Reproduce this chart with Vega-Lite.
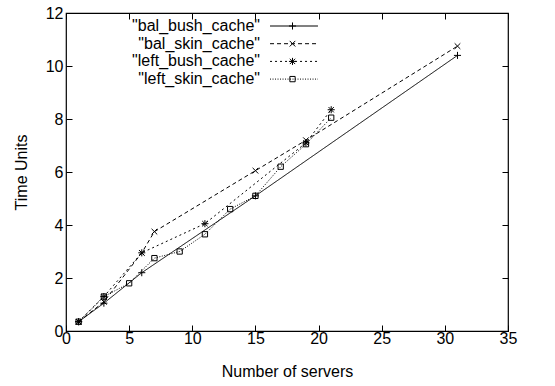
{
  "$schema": "https://vega.github.io/schema/vega-lite/v6.json",
  "width": 442,
  "height": 318,
  "autosize": {"type": "none"},
  "padding": {"left": 66, "top": 13, "right": 47, "bottom": 55},
  "background": "white",
  "config": {
    "font": "Liberation Sans",
    "view": {"stroke": "black", "strokeWidth": 1.2},
    "axis": {
      "domain": false,
      "grid": false,
      "labelFlush": false,
      "tickColor": "black",
      "tickSize": -6,
      "tickWidth": 1,
      "labelFont": "Liberation Sans",
      "labelFontSize": 16,
      "labelColor": "black",
      "titleFont": "Liberation Sans",
      "titleFontSize": 16,
      "titleFontWeight": "normal",
      "titleColor": "black"
    },
    "legend": {
      "labelFont": "Liberation Sans",
      "labelFontSize": 16,
      "labelColor": "black"
    }
  },
  "data": {
    "values": [
      {"servers": 1, "time": 0.35, "series": "\"bal_bush_cache\""},
      {"servers": 3, "time": 1.05, "series": "\"bal_bush_cache\""},
      {"servers": 6, "time": 2.2, "series": "\"bal_bush_cache\""},
      {"servers": 15, "time": 5.1, "series": "\"bal_bush_cache\""},
      {"servers": 31, "time": 10.4, "series": "\"bal_bush_cache\""},
      {"servers": 1, "time": 0.35, "series": "\"bal_skin_cache\""},
      {"servers": 3, "time": 1.1, "series": "\"bal_skin_cache\""},
      {"servers": 6, "time": 2.95, "series": "\"bal_skin_cache\""},
      {"servers": 7, "time": 3.75, "series": "\"bal_skin_cache\""},
      {"servers": 15, "time": 6.05, "series": "\"bal_skin_cache\""},
      {"servers": 19, "time": 7.2, "series": "\"bal_skin_cache\""},
      {"servers": 31, "time": 10.75, "series": "\"bal_skin_cache\""},
      {"servers": 1, "time": 0.35, "series": "\"left_bush_cache\""},
      {"servers": 3, "time": 1.3, "series": "\"left_bush_cache\""},
      {"servers": 6, "time": 2.95, "series": "\"left_bush_cache\""},
      {"servers": 11, "time": 4.05, "series": "\"left_bush_cache\""},
      {"servers": 19, "time": 7.1, "series": "\"left_bush_cache\""},
      {"servers": 21, "time": 8.35, "series": "\"left_bush_cache\""},
      {"servers": 1, "time": 0.35, "series": "\"left_skin_cache\""},
      {"servers": 3, "time": 1.3, "series": "\"left_skin_cache\""},
      {"servers": 5, "time": 1.8, "series": "\"left_skin_cache\""},
      {"servers": 7, "time": 2.75, "series": "\"left_skin_cache\""},
      {"servers": 9, "time": 3.0, "series": "\"left_skin_cache\""},
      {"servers": 11, "time": 3.65, "series": "\"left_skin_cache\""},
      {"servers": 13, "time": 4.6, "series": "\"left_skin_cache\""},
      {"servers": 15, "time": 5.1, "series": "\"left_skin_cache\""},
      {"servers": 17, "time": 6.2, "series": "\"left_skin_cache\""},
      {"servers": 19, "time": 7.05, "series": "\"left_skin_cache\""},
      {"servers": 21, "time": 8.05, "series": "\"left_skin_cache\""}
    ]
  },
  "resolve": {"axis": {"x": "independent", "y": "independent"}},
  "layer": [
    {
      "mark": {"type": "line", "color": "black", "strokeWidth": 1},
      "encoding": {
        "x": {
          "field": "servers", "type": "quantitative",
          "scale": {"domain": [0, 35], "nice": false, "zero": false},
          "axis": {"orient": "bottom", "values": [0, 5, 10, 15, 20, 25, 30, 35], "title": "Number of servers", "labelPadding": 5, "titlePadding": 17}
        },
        "y": {
          "field": "time", "type": "quantitative",
          "scale": {"domain": [0, 12], "nice": false, "zero": false},
          "axis": {"orient": "left", "values": [0, 2, 4, 6, 8, 10, 12], "title": "Time Units", "labelPadding": 9, "titlePadding": 16}
        },
        "strokeDash": {
          "field": "series", "type": "nominal",
          "scale": {"range": [[1, 0], [4, 3], [2, 3], [1, 1.5]]},
          "legend": {
            "orient": "none", "legendX": 199, "legendY": 5,
            "title": null, "symbolType": "M-10,0L10,0", "symbolSize": 23,
            "symbolStrokeColor": "black", "symbolStrokeWidth": 1,
            "labelAlign": "right", "labelOffset": -42, "symbolOffset": 21,
            "padding": 0, "rowPadding": 1.7
          }
        },
        "detail": {"field": "series"}
      }
    },
    {
      "mark": {"type": "point", "filled": false, "color": "black", "strokeWidth": 1, "size": 50, "opacity": 1},
      "encoding": {
        "x": {
          "field": "servers", "type": "quantitative",
          "axis": {"orient": "top", "values": [0, 5, 10, 15, 20, 25, 30, 35], "labels": false, "title": null}
        },
        "y": {
          "field": "time", "type": "quantitative",
          "axis": {"orient": "right", "values": [0, 2, 4, 6, 8, 10, 12], "labels": false, "title": null}
        },
        "shape": {
          "field": "series", "type": "nominal",
          "scale": {
            "domain": ["\"bal_bush_cache\"", "\"bal_skin_cache\"", "\"left_bush_cache\"", "\"left_skin_cache\""],
            "range": ["M-1,0L1,0M0,-1L0,1", "M-0.8,-0.8L0.8,0.8M-0.8,0.8L0.8,-0.8", "M-1,0L1,0M0,-1L0,1M-0.75,-0.75L0.75,0.75M-0.75,0.75L0.75,-0.75", "M-0.75,-0.75L0.75,-0.75L0.75,0.75L-0.75,0.75Z"]
          },
          "legend": {
            "orient": "none", "legendX": 199, "legendY": 5,
            "title": null, "symbolSize": 50,
            "symbolStrokeColor": "black", "symbolFillColor": "transparent", "symbolStrokeWidth": 1,
            "labelAlign": "right", "labelOffset": -45, "labelExpr": "''",
            "symbolOffset": 19.5,
            "padding": 0, "rowPadding": 1.7
          }
        }
      }
    }
  ]
}
